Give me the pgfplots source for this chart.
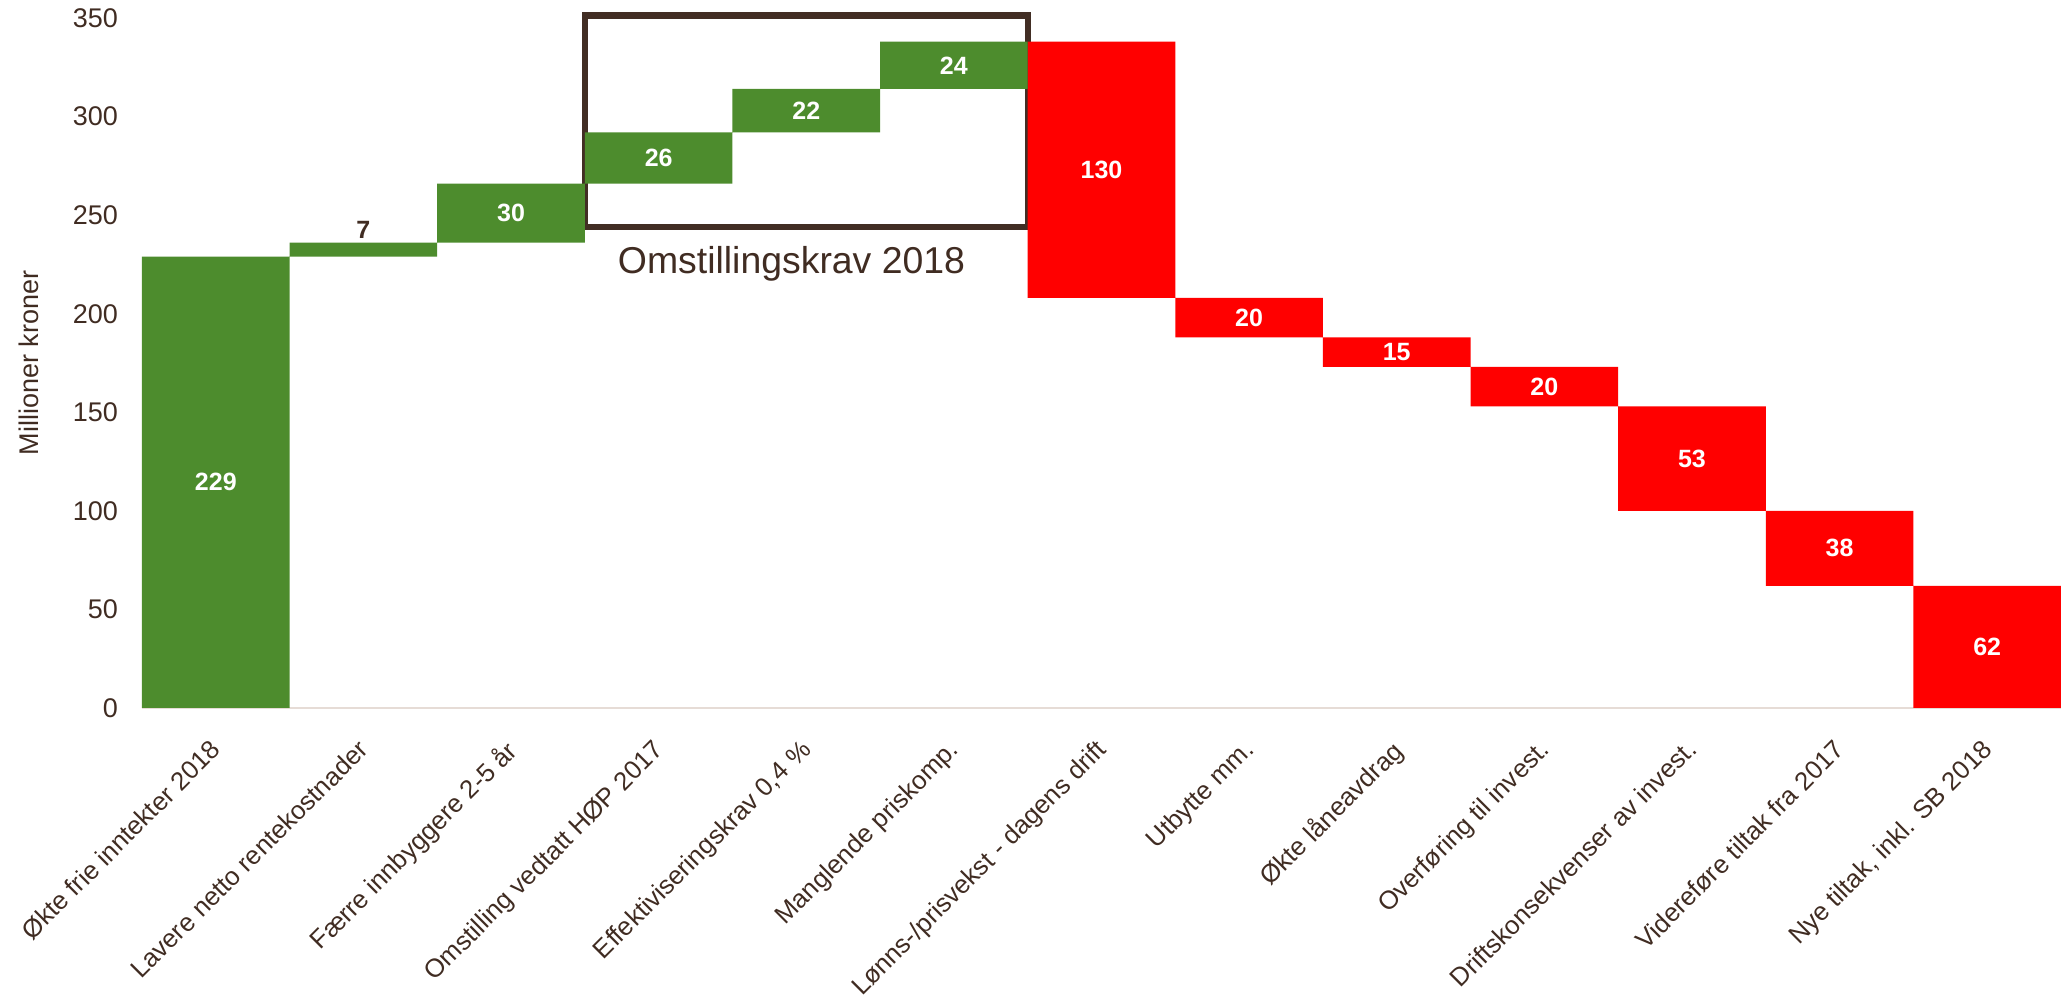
\documentclass[border=0pt]{standalone}
\usepackage{fontspec}
\setmainfont{Liberation Sans}
\usepackage{pgfplots}
\pgfplotsset{compat=1.18}
\usepackage{pgfplotstable}
\usetikzlibrary{calc}
\definecolor{wgreen}{RGB}{77,140,45}
\definecolor{wred}{RGB}{255,0,0}
\definecolor{txt}{RGB}{64,44,34}
\definecolor{boxc}{RGB}{66,46,36}
\definecolor{axl}{RGB}{230,220,214}

\pgfplotstableread{
x base up down
0 0   229 0
1 229 7   0
2 236 30  0
3 266 26  0
4 292 22  0
5 314 24  0
6 208 0   130
7 188 0   20
8 173 0   15
9 153 0   20
10 100 0  53
11 62 0   38
12 0  0   62
}\wfdata

\pgfplotstableread{
x y lab
0 114.5 229
2 251 30
3 279 26
4 303 22
5 326 24
6 273 130
7 198 20
8 180.5 15
9 163 20
10 126.5 53
11 81 38
12 31 62
}\wflabels

\begin{document}
\begin{tikzpicture}
\begin{axis}[
  name=ax,
  scale only axis,
  width=959.5pt, height=345pt,
  xmin=-0.5, xmax=12.5,
  ymin=0, ymax=350,
  ybar stacked,
  bar width=1,
  clip=false,
  axis x line*=bottom,
  axis y line*=left,
  x axis line style={draw=axl, line width=1pt, -},
  y axis line style={draw=none},
  major tick length=0pt,
  tick style={draw=none},
  ytick={0,50,...,350},
  xtick={0,...,12},
  xticklabels={
    Økte frie inntekter 2018,
    Lavere netto rentekostnader,
    Færre innbyggere 2-5 år,
    Omstilling vedtatt HØP 2017,
    {Effektiviseringskrav 0,4 \%},
    Manglende priskomp.,
    Lønns-/prisvekst - dagens drift,
    Utbytte mm.,
    Økte låneavdrag,
    Overføring til invest.,
    Driftskonsekvenser av invest.,
    Videreføre tiltak fra 2017,
    {Nye tiltak, inkl. SB 2018}
  },
  /pgf/number format/assume math mode=true,
  yticklabel style={font=\fontsize{13.5}{15}\selectfont, text=txt, xshift=-8.5pt},
  xticklabel style={font=\fontsize{12.9}{15}\selectfont, text=txt, rotate=45, anchor=north east, inner sep=0pt, yshift=-8pt, xshift=-13pt},
  ylabel={Millioner kroner},
  every axis y label/.style={at={(axis description cs:-0.0589,0.5)}, rotate=90, anchor=center, font=\fontsize{13.5}{15}\selectfont, text=txt},
]
\addplot[fill=none, draw=none] table[x=x, y=base] {\wfdata};
\addplot[fill=wgreen, draw=none] table[x=x, y=up] {\wfdata};
\addplot[fill=wred, draw=none] table[x=x, y=down] {\wfdata};

\draw[boxc, line width=3.2pt] (axis cs:2.5,244) rectangle (axis cs:5.5,351.3);
\node[font=\fontsize{18.7}{22}\selectfont, text=txt] at (axis cs:3.9,225.3) {Omstillingskrav 2018};
\end{axis}

\begin{axis}[
  at={(ax.south west)}, anchor=south west,
  scale only axis,
  width=959.5pt, height=345pt,
  xmin=-0.5, xmax=12.5,
  ymin=0, ymax=350,
  hide axis, clip=false,
]
\addplot[mark=none, draw=none,
  nodes near coords, point meta=explicit symbolic,
  every node near coord/.append style={anchor=center, text=white, font=\bfseries\fontsize{12.5}{14}\selectfont}]
  table[x=x, y=y, meta=lab] {\wflabels};
\addplot[mark=none, draw=none,
  nodes near coords, point meta=explicit symbolic,
  every node near coord/.append style={anchor=south, inner sep=2pt, text=txt, font=\bfseries\fontsize{12.5}{14}\selectfont}]
  coordinates {(1,236) [7]};
\end{axis}
\pgfresetboundingbox
\useasboundingbox ($(ax.south west)+(-71pt,-146pt)$) rectangle ($(ax.north east)+(0pt,9pt)$);
\end{tikzpicture}
\end{document}
